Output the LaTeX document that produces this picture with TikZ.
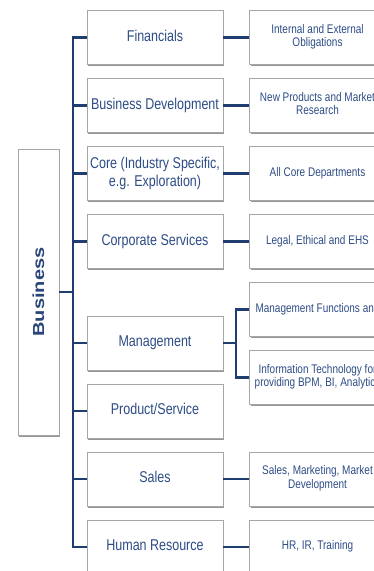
\documentclass[tikz,border=0pt]{standalone}
\usepackage{fontspec}
\setmainfont{Liberation Sans}
\usepackage{graphicx}
\usetikzlibrary{shadows}
\definecolor{navy}{HTML}{1F3D6E}
\definecolor{inkblue}{HTML}{2E4D86}
\newcommand{\tall}[1]{\scalebox{1}[1.25]{\begin{tabular}{@{}c@{}}#1\end{tabular}}}
\tikzstyle{card} = [rectangle, draw=black!35, line width=0.5pt, fill=white, text=inkblue, drop shadow={shadow xshift=1pt, shadow yshift=-1.8pt, fill=black!55, opacity=0.75}]
\tikzstyle{root} = [card, rotate=90, minimum width=286pt, minimum height=41pt, font=\fontsize{16}{18}\selectfont\bfseries, text=inkblue!90!black]
\tikzstyle{unit} = [card, minimum width=136pt, minimum height=54pt, inner sep=1pt, font=\fontsize{12.5}{14.6}\selectfont]
\tikzstyle{detail} = [card, minimum width=136pt, minimum height=54pt, inner sep=1pt, font=\fontsize{10}{10.8}\selectfont]
\tikzstyle{link} = [line width=2.9pt, draw=navy]

\begin{document}
\begin{tikzpicture}[x=1pt, y=1pt, node distance=68pt]
\useasboundingbox (0,0) rectangle (374,-571);
\clip (0,0) rectangle (374,-571);

\node (biz) [root] at (38.5,-292) {\scalebox{1.25}[1]{Business}};

\node (fin) [unit] at (155,-37.5) {\tall{Financials}};
\node (bdev) [unit, below of=fin] {\tall{Business Development}};
\node (core) [unit, below of=bdev] {\tall{Core (Industry Specific,\\e.g. Exploration)}};
\node (corp) [unit, below of=core] {\tall{Corporate Services}};
\node (mgmt) [unit, below of=corp, yshift=-33.5pt] {\tall{Management}};
\node (prod) [unit, below of=mgmt] {\tall{Product/Service}};
\node (sales) [unit, below of=prod] {\tall{Sales}};
\node (hr) [unit, below of=sales] {\tall{Human Resource}};

\node (fin-d) [detail, right of=fin, xshift=94.5pt] {\tall{Internal and External\\Obligations}};
\node (bdev-d) [detail, right of=bdev, xshift=94.5pt] {\tall{New Products and Market\\Research}};
\node (core-d) [detail, right of=core, xshift=94.5pt] {\tall{All Core Departments}};
\node (corp-d) [detail, right of=corp, xshift=94.5pt] {\tall{Legal, Ethical and EHS}};
\node (mfunc) [detail, right of=mgmt, xshift=94.5pt, yshift=33.5pt] {\tall{Management Functions and}};
\node (itech) [detail, right of=mgmt, xshift=94.5pt, yshift=-34.5pt] {\tall{Information Technology for\\providing BPM, BI, Analytics}};
\node (sales-d) [detail, right of=sales, xshift=94.5pt] {\tall{Sales, Marketing, Market\\Development}};
\node (hr-d) [detail, right of=hr, xshift=94.5pt] {\tall{HR, IR, Training}};

\coordinate (spine) at (73,-292);
\coordinate (fork) at (236,-343);

% trunk
\draw [link] (biz) -- (spine);
\draw [link] (spine) |- (fin);
\draw [link] (spine) |- (hr);
\draw [link] (spine |- bdev) -- (bdev);
\draw [link] (spine |- core) -- (core);
\draw [link] (spine |- corp) -- (corp);
\draw [link] (spine |- mgmt) -- (mgmt);
\draw [link] (spine |- prod) -- (prod);
\draw [link] (spine |- sales) -- (sales);

% second level
\draw [link] (fin) -- (fin-d);
\draw [link] (bdev) -- (bdev-d);
\draw [link] (core) -- (core-d);
\draw [link] (corp) -- (corp-d);
\draw [link] (mgmt) -- (fork);
\draw [link] (fork) |- (mfunc);
\draw [link] (fork) |- (itech);
\draw [link] (sales) -- (sales-d);
\draw [link] (hr) -- (hr-d);

\end{tikzpicture}
\end{document}
